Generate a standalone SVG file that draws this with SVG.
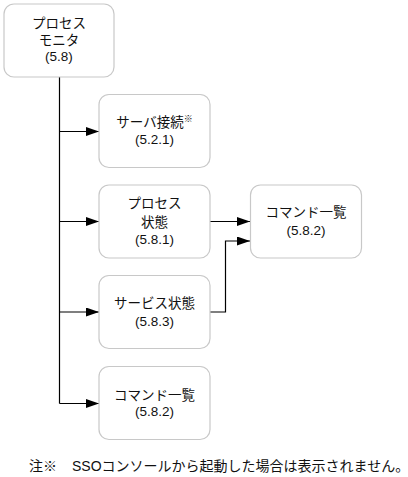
<svg xmlns="http://www.w3.org/2000/svg" width="408" height="477" viewBox="0 0 408 477">
<defs>
<marker id="arr" markerWidth="13" markerHeight="9" refX="13" refY="4.5" orient="auto" markerUnits="userSpaceOnUse">
<path d="M0,0 L13,4.5 L0,9 z" fill="#000"/>
</marker>
<style>
.box{fill:#fff;stroke:#c8c8c8;stroke-width:1.2}
.t{font-family:"Liberation Sans","Noto Sans CJK JP",sans-serif;font-size:13.5px;fill:#111;text-anchor:middle}
.c{fill:none;stroke:#000;stroke-width:1.2}
</style>
</defs>
<rect width="408" height="477" fill="#fff"/>
<g id="connectors">
<path class="c" d="M59.5,77 V403.5"/>
<path class="c" d="M59.5,131.5 H99" marker-end="url(#arr)"/>
<path class="c" d="M59.5,221.5 H99" marker-end="url(#arr)"/>
<path class="c" d="M59.5,312 H99" marker-end="url(#arr)"/>
<path class="c" d="M59.5,403.5 H99" marker-end="url(#arr)"/>
<path class="c" d="M210,221.5 H250" marker-end="url(#arr)"/>
<path class="c" d="M210,312 H225.5 V241 H250" marker-end="url(#arr)"/>
</g>
<g id="n-monitor">
<rect class="box" x="4" y="4" width="110" height="73" rx="10"/>
<text class="t" x="59" y="27.5">プロセス</text>
<text class="t" x="59" y="45">モニタ</text>
<text class="t" x="59" y="61">(5.8)</text>
</g>
<g id="n-server">
<rect class="box" x="99" y="94.5" width="111" height="73" rx="10"/>
<text class="t" x="154.5" y="126.5">サーバ接続<tspan font-size="9" dy="-5">※</tspan></text>
<text class="t" x="154.5" y="144">(5.2.1)</text>
</g>
<g id="n-process">
<rect class="box" x="99" y="185" width="111" height="73" rx="10"/>
<text class="t" x="154.5" y="208">プロセス</text>
<text class="t" x="154.5" y="226.5">状態</text>
<text class="t" x="154.5" y="243.5">(5.8.1)</text>
</g>
<g id="n-cmd1">
<rect class="box" x="250.5" y="185" width="111" height="73" rx="10"/>
<text class="t" x="306" y="217">コマンド一覧</text>
<text class="t" x="306" y="234.5">(5.8.2)</text>
</g>
<g id="n-service">
<rect class="box" x="99" y="275.5" width="111" height="73" rx="10"/>
<text class="t" x="154.5" y="307.5">サービス状態</text>
<text class="t" x="154.5" y="326">(5.8.3)</text>
</g>
<g id="n-cmd2">
<rect class="box" x="99" y="366.5" width="111" height="73" rx="10"/>
<text class="t" x="154.5" y="399.5">コマンド一覧</text>
<text class="t" x="154.5" y="416">(5.8.2)</text>
</g>
<text class="t" style="text-anchor:start;font-size:14px" x="29" y="471">注※<tspan x="72">SSOコンソールから起動した場合は表示されません。</tspan></text>
</svg>
